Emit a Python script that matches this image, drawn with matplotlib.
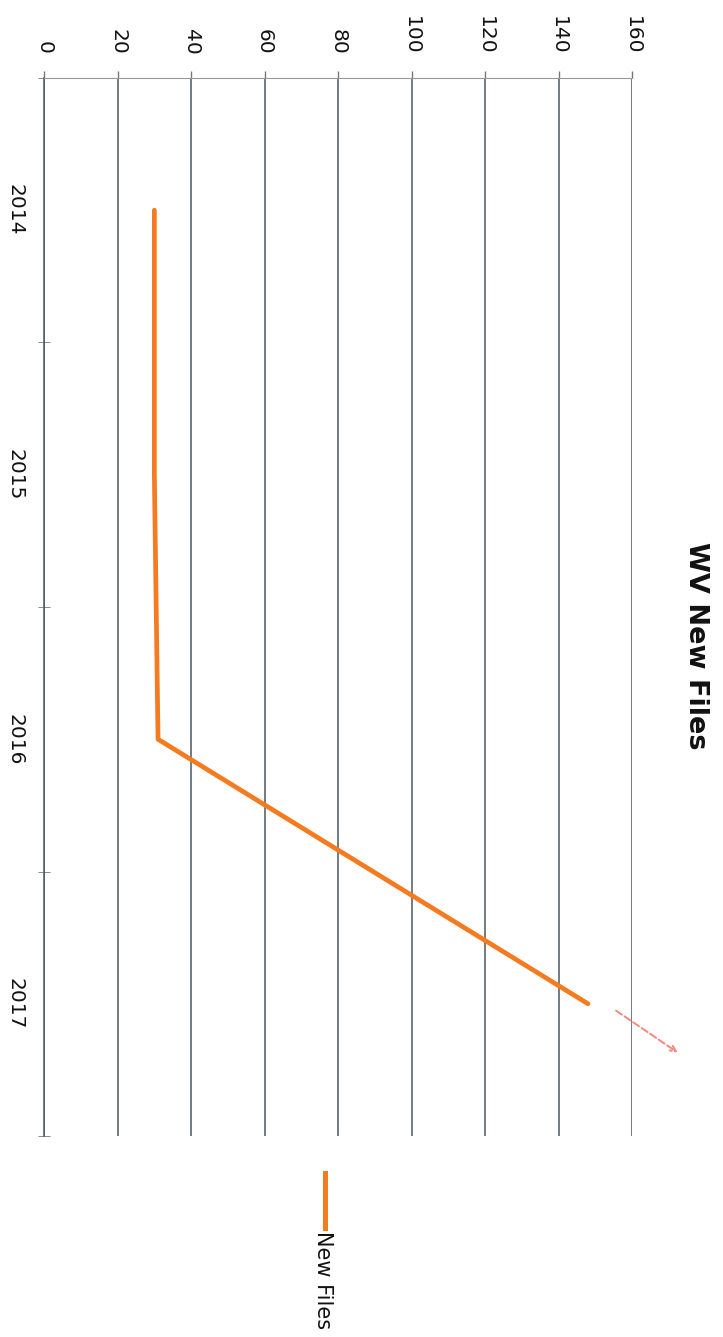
import matplotlib.pyplot as plt
from matplotlib.lines import Line2D

years = ['2014', '2015', '2016', '2017']
new_files = [30, 30, 31, 148]
value_ticks = [0, 20, 40, 60, 80, 100, 120, 140, 160]

orange = '#F47B20'
grid_col = '#4d5761'

fig = plt.figure(figsize=(7.23, 13.37), dpi=100)
ax = fig.add_axes([0.061, 0.1503, 0.8133, 0.7914])

# chart is drawn turned a quarter clockwise: values run left->right, years top->bottom
pos = [i + 0.5 for i in range(len(years))]
ax.plot(new_files, pos, color=orange, lw=3.4, solid_capstyle='round')

ax.set_xlim(0, 160)
ax.set_ylim(len(years), 0)
ax.xaxis.tick_top()
ax.set_xticks(value_ticks)
ax.set_xticklabels([str(v) for v in value_ticks], rotation=-90, fontsize=14.5,
                   color='#111111')
ax.tick_params(axis='x', length=5, width=1, color='#777777', pad=12)
ax.grid(axis='x', color=grid_col, lw=1.1)

ax.set_yticks(pos)
ax.set_yticklabels(years, rotation=-90, fontsize=14.5, va='center', color='#111111')
ax.tick_params(axis='y', length=0, pad=14)
ax.set_yticks(range(len(years) + 1), minor=True)
ax.tick_params(axis='y', which='minor', length=8, direction='inout', color='#777777')

for s in ['right', 'bottom']:
    ax.spines[s].set_visible(False)
ax.spines['top'].set_color('#999999')
ax.spines['left'].set_color(grid_col)
ax.spines['left'].set_linewidth(1.1)

# the faint dashed extension with a red arrow head
ax.annotate('', xy=(173, 3.69), xytext=(155, 3.52), annotation_clip=False,
            arrowprops=dict(arrowstyle='->', color='#f08a80', ls='--', lw=1.4))

fig.text(0.962, 0.517, 'WV New Files', rotation=-90, fontsize=19.5,
         fontweight='bold', ha='center', va='center', color='#111111')

# legend
fig.add_artist(Line2D([0.45, 0.45], [1 - 1173 / 1337, 1 - 1228 / 1337],
                      color=orange, lw=3.6, transform=fig.transFigure))
fig.text(0.447, 1 - 1231 / 1337, 'New Files', rotation=-90, fontsize=15,
         ha='center', va='top', color='#111111')

fig.savefig('out.png', dpi=100)
